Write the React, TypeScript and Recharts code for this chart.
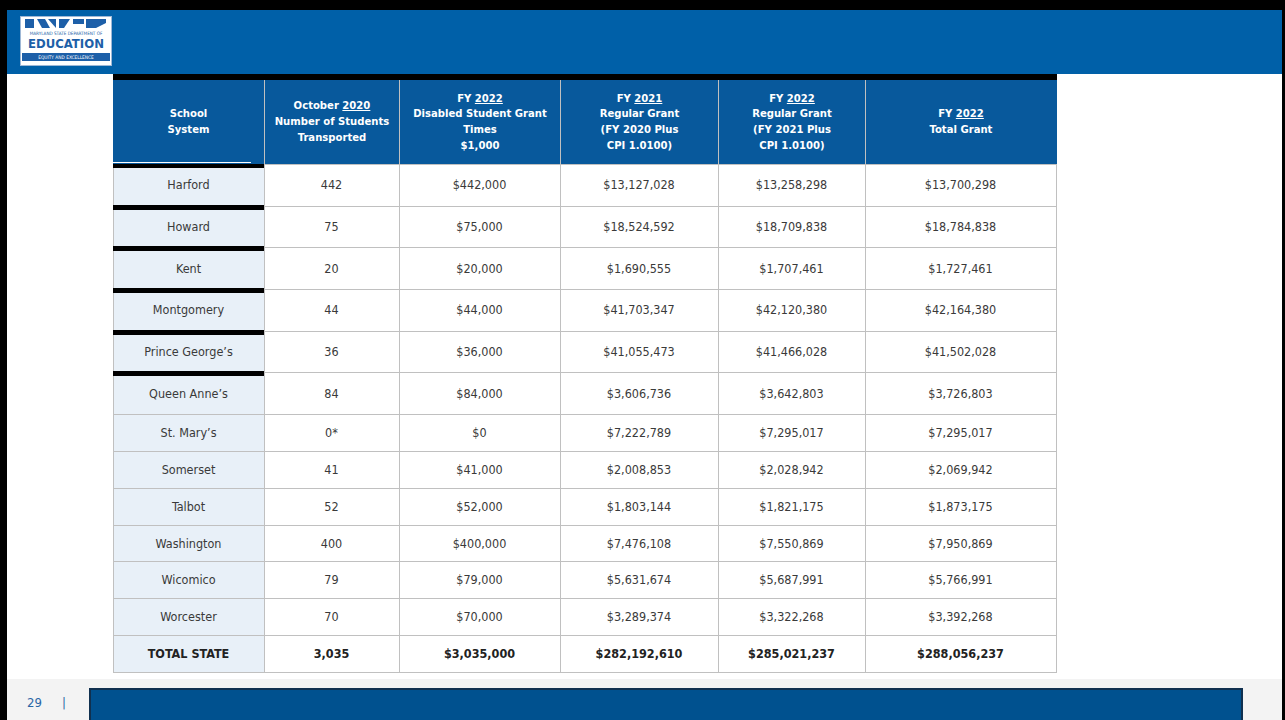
import { BarChart, XAxis, YAxis } from "recharts";

const systems = [
  "Harford",
  "Howard",
  "Kent",
  "Montgomery",
  "Prince George’s",
  "Queen Anne’s",
  "St. Mary’s",
  "Somerset",
  "Talbot",
  "Washington",
  "Wicomico",
  "Worcester",
  "TOTAL STATE",
];
const studentsTransported = [442, 75, 20, 44, 36, 84, 0, 41, 52, 400, 79, 70, 3035];
const studentFootnotes = ["", "", "", "", "", "", "*", "", "", "", "", "", ""];
const disabledGrant = [
  442000, 75000, 20000, 44000, 36000, 84000, 0, 41000, 52000, 400000, 79000, 70000, 3035000,
];
const regularGrant2021 = [
  13127028, 18524592, 1690555, 41703347, 41055473, 3606736, 7222789, 2008853, 1803144,
  7476108, 5631674, 3289374, 282192610,
];
const regularGrant2022 = [
  13258298, 18709838, 1707461, 42120380, 41466028, 3642803, 7295017, 2028942, 1821175,
  7550869, 5687991, 3322268, 285021237,
];
const totalGrant2022 = [
  13700298, 18784838, 1727461, 42164380, 41502028, 3726803, 7295017, 2069942, 1873175,
  7950869, 5766991, 3392268, 288056237,
];
const columnHeaders = [
  ["School", "System"],
  ["October 2020", "Number of Students", "Transported"],
  ["FY 2022", "Disabled Student Grant", "Times", "$1,000"],
  ["FY 2021", "Regular Grant", "(FY 2020 Plus", "CPI 1.0100)"],
  ["FY 2022", "Regular Grant", "(FY 2021 Plus", "CPI 1.0100)"],
  ["FY 2022", "Total Grant"],
];
const pageNumber = "29";

// layout
const COL_W = [151, 135, 161, 158, 147, 191];
const COL_X = COL_W.map((_, i) => COL_W.slice(0, i).reduce((a, b) => a + b, 0));
const TABLE_X = 113;
const TABLE_W = 943;
const FONT = "'DejaVu Sans Condensed', 'DejaVu Sans', sans-serif";
const GRID = "#c0c0c0";

const num = (v: number) => v.toLocaleString("en-US");
const money = (v: number) => "$" + v.toLocaleString("en-US");

const rows = systems.map((system, i) => ({
  system,
  cells: [
    system,
    num(studentsTransported[i]) + studentFootnotes[i],
    money(disabledGrant[i]),
    money(regularGrant2021[i]),
    money(regularGrant2022[i]),
    money(totalGrant2022[i]),
  ],
  isTotal: i === systems.length - 1,
}));

const topRows = rows.slice(0, 6);
const bottomRows = rows.slice(6);

function makeRowTick(bandHeight: number, ruled: boolean) {
  return (props: any) => {
    const { y, payload } = props;
    const row = rows.find((r) => r.system === payload.value);
    if (!row) return <g />;
    const top = Math.round(y - bandHeight / 2);
    const bottom = Math.round(y + bandHeight / 2);
    return (
      <g>
        {row.cells.map((text, j) => (
          <g key={j}>
            <rect
              x={COL_X[j] + 0.5}
              y={top + 0.5}
              width={COL_W[j]}
              height={bottom - top}
              fill={j === 0 ? "#e8f0f8" : "#ffffff"}
              stroke={GRID}
              strokeWidth={1}
              shapeRendering="crispEdges"
            />
            <text
              x={COL_X[j] + COL_W[j] / 2}
              y={y}
              textAnchor="middle"
              dominantBaseline="central"
              fontFamily={FONT}
              fontSize={12.5}
              fontWeight={row.isTotal ? 700 : 400}
              fill={row.isTotal ? "#222222" : "#3a3a3a"}
            >
              {text}
            </text>
          </g>
        ))}
        {ruled && (
          <rect x={0} y={top - 1} width={COL_W[0]} height={5} fill="#000000" />
        )}
      </g>
    );
  };
}

function TableBlock({
  data,
  height,
  ruled,
}: {
  data: typeof rows;
  height: number;
  ruled: boolean;
}) {
  // one extra pixel below the rows so the last grid line is not clipped
  return (
    <BarChart
      layout="vertical"
      width={TABLE_W + 1}
      height={height + 1}
      data={data}
      margin={{ top: 0, right: 0, bottom: 1, left: 0 }}
    >
      <XAxis type="number" hide />
      <YAxis
        type="category"
        dataKey="system"
        width={COL_W[0]}
        interval={0}
        axisLine={false}
        tickLine={false}
        tick={makeRowTick(height / data.length, ruled)}
      />
    </BarChart>
  );
}

function HeaderLine({ text, first }: { text: string; first: boolean }) {
  if (!first) return <div>{text}</div>;
  const parts = text.split(/(\d{4})/);
  return (
    <div>
      {parts.map((p, i) =>
        /^\d{4}$/.test(p) ? (
          <span key={i} style={{ textDecoration: "underline" }}>
            {p}
          </span>
        ) : (
          <span key={i}>{p}</span>
        )
      )}
    </div>
  );
}

function Logo() {
  return (
    <svg width={92} height={50} style={{ position: "absolute", left: 20, top: 16 }}>
      <rect x={0.5} y={0.5} width={91} height={49} fill="#ffffff" stroke="#9fb8d6" />
      <polygon points="5,3 14,3 14,12 5,12" fill="#1d5fa8" />
      <polygon points="17,3 25,3 30,12 22,12" fill="#1d5fa8" />
      <polygon points="28,3 36,3 36,12" fill="#1d5fa8" />
      <polygon points="39,3 50,3 44,12 39,12" fill="#1d5fa8" />
      <polygon points="53,3 64,3 64,8 53,8" fill="#1d5fa8" />
      <polygon points="66,3 86,3 86,7 76,12 66,12" fill="#1d5fa8" />
      <text x={46} y={19} textAnchor="middle" fontFamily={FONT} fontSize={4.6} fill="#1d5fa8">
        MARYLAND STATE DEPARTMENT OF
      </text>
      <text
        x={46}
        y={32}
        textAnchor="middle"
        fontFamily={FONT}
        fontSize={13}
        fontWeight={700}
        fill="#1d5fa8"
      >
        EDUCATION
      </text>
      <rect x={2} y={37} width={88} height={8} fill="#1d5fa8" />
      <text x={46} y={43.3} textAnchor="middle" fontFamily={FONT} fontSize={4.8} fill="#ffffff">
        EQUITY AND EXCELLENCE
      </text>
    </svg>
  );
}

export default function App() {
  return (
    <div
      style={{
        position: "absolute",
        left: 0,
        top: 0,
        width: 1285,
        height: 720,
        background: "#ffffff",
        overflow: "hidden",
        fontFamily: FONT,
      }}
    >
      {/* slide frame */}
      <div style={{ position: "absolute", left: 0, top: 0, width: 1285, height: 10, background: "#000" }} />
      <div style={{ position: "absolute", left: 0, top: 0, width: 7, height: 720, background: "#000" }} />
      <div style={{ position: "absolute", left: 1282, top: 0, width: 3, height: 720, background: "#000" }} />
      <div style={{ position: "absolute", left: 7, top: 10, width: 1275, height: 64, background: "#0060a8" }} />
      <Logo />

      {/* footer */}
      <div style={{ position: "absolute", left: 7, top: 679, width: 1275, height: 41, background: "#f3f3f3" }} />
      <div
        style={{
          position: "absolute",
          left: 89,
          top: 688,
          width: 1150,
          height: 40,
          background: "#00518f",
          border: "2px solid #10304f",
        }}
      />
      <div style={{ position: "absolute", left: 27, top: 695, fontSize: 13, color: "#2a66a6" }}>
        {pageNumber}
      </div>
      <div style={{ position: "absolute", left: 62, top: 695, fontSize: 13, color: "#2a66a6" }}>|</div>

      {/* table header */}
      <div style={{ position: "absolute", left: TABLE_X, top: 74, width: TABLE_W + 1, height: 6, background: "#000" }} />
      <div
        style={{
          position: "absolute",
          left: TABLE_X,
          top: 80,
          width: TABLE_W + 1,
          height: 84,
          background: "#08599c",
          display: "flex",
        }}
      >
        {columnHeaders.map((lines, j) => (
          <div
            key={j}
            style={{
              width: COL_W[j],
              boxSizing: "border-box",
              borderLeft: j > 0 ? `1px solid ${GRID}` : "none",
              display: "flex",
              flexDirection: "column",
              justifyContent: "center",
              alignItems: "center",
              textAlign: "center",
              color: "#ffffff",
              fontWeight: 700,
              fontSize: 11.2,
              lineHeight: "15.7px",
            }}
          >
            {lines.map((l, k) => (
              <HeaderLine key={k} text={l} first={k === 0} />
            ))}
          </div>
        ))}
      </div>
      <div style={{ position: "absolute", left: TABLE_X, top: 162, width: 138, height: 1, background: "#ffffff" }} />

      {/* table body */}
      <div style={{ position: "absolute", left: TABLE_X, top: 164 }}>
        <TableBlock data={topRows} height={250} ruled={true} />
      </div>
      <div style={{ position: "absolute", left: TABLE_X, top: 414 }}>
        <TableBlock data={bottomRows} height={258} ruled={false} />
      </div>
    </div>
  );
}
